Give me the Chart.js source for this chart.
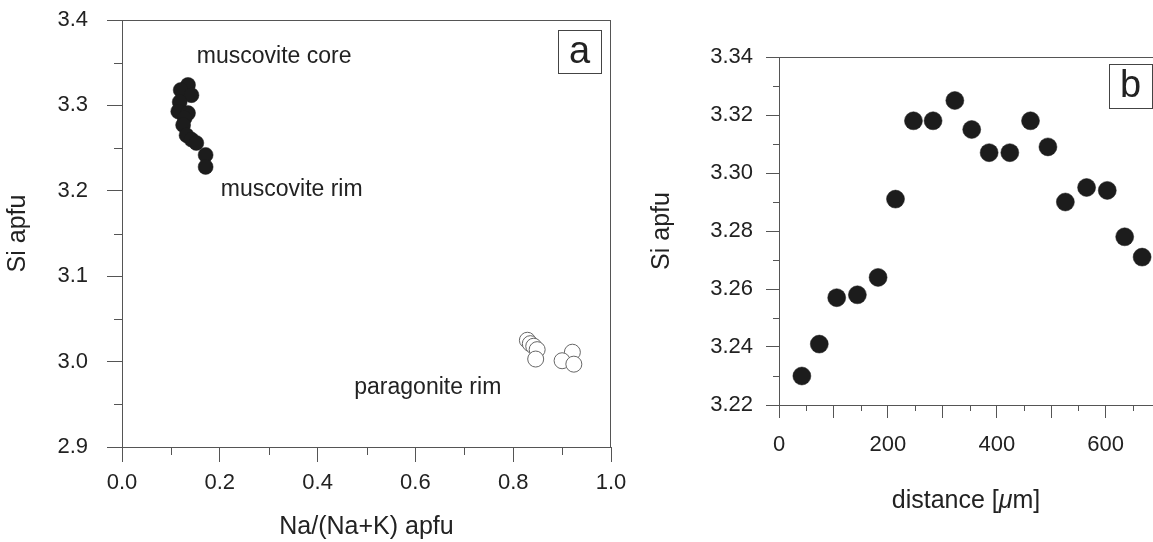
<!DOCTYPE html>
<html>
<head>
<meta charset="utf-8">
<script src="https://cdn.jsdelivr.net/npm/chart.js@4.4.1/dist/chart.umd.min.js"></script>
<style>
html, body { margin: 0; padding: 0; background: #fff; overflow: hidden; }
#wrapA { position: absolute; left: 0; top: 0; width: 640px; height: 542px; }
#wrapB { position: absolute; left: 640px; top: 0; width: 513px; height: 542px; }
</style>
</head>
<body>
<div id="wrapA"><canvas id="panelA"></canvas></div>
<div id="wrapB"><canvas id="panelB"></canvas></div>
<script>
// panel a - Si vs Na/(Na+K)
const muscoviteX = [0.135, 0.120, 0.142, 0.118, 0.115, 0.135, 0.128, 0.125, 0.132, 0.142, 0.152, 0.171, 0.171];
const muscoviteY = [3.324, 3.318, 3.312, 3.304, 3.293, 3.291, 3.285, 3.277, 3.265, 3.260, 3.256, 3.242, 3.228];
const paragoniteX = [0.829, 0.835, 0.842, 0.849, 0.846, 0.921, 0.900, 0.924];
const paragoniteY = [3.025, 3.021, 3.018, 3.014, 3.003, 3.011, 3.001, 2.997];
const ticksXA = [0.0, 0.2, 0.4, 0.6, 0.8, 1.0];
const ticksYA = [2.9, 3.0, 3.1, 3.2, 3.3, 3.4];

// panel b - Si profile along distance
const distance = [42, 74, 106, 144, 182, 214, 247, 283, 323, 354, 386, 424, 462, 494, 526, 565, 603, 635, 667];
const siProfile = [3.230, 3.241, 3.257, 3.258, 3.264, 3.291, 3.318, 3.318, 3.325, 3.315, 3.307, 3.307, 3.318, 3.309, 3.290, 3.295, 3.294, 3.278, 3.271];
const ticksXB = [0, 100, 200, 300, 400, 500, 600];
const ticksYB = [3.22, 3.24, 3.26, 3.28, 3.30, 3.32, 3.34];

const FONT = "'Liberation Sans', Arial, Helvetica, sans-serif";
const AXIS = '#555';
const INK = '#222';

// frame, minor ticks, letter box and text notes
const decor = {
  id: 'decor',
  afterDraw(chart, args, o) {
    const {ctx, chartArea: a} = chart;
    const sx = chart.scales.x, sy = chart.scales.y;
    ctx.save();
    ctx.strokeStyle = AXIS;
    ctx.lineWidth = 1;
    ctx.beginPath();
    ctx.moveTo(a.left - o.major, a.top + 0.5);
    ctx.lineTo(a.right, a.top + 0.5);
    if (o.rightLine) {
      ctx.moveTo(a.right - 0.5, a.top);
      ctx.lineTo(a.right - 0.5, a.bottom);
    }
    // minor ticks
    for (let v = sx.min + o.xMinor; v < sx.max; v += o.xMinor) {
      const r = v / o.xMajor;
      if (Math.abs(r - Math.round(r)) < 1e-6) continue;
      const px = Math.round(sx.getPixelForValue(v)) + 0.5;
      ctx.moveTo(px, a.bottom);
      ctx.lineTo(px, a.bottom + o.minor);
    }
    for (let v = sy.min + o.yMinor; v < sy.max - 1e-9; v += o.yMinor) {
      const r = v / o.yMajor;
      if (Math.abs(r - Math.round(r)) < 1e-6) continue;
      const py = Math.round(sy.getPixelForValue(v)) + 0.5;
      ctx.moveTo(a.left, py);
      ctx.lineTo(a.left - o.minor, py);
    }
    ctx.stroke();

    // letter box
    const bx = a.right - o.box.right - o.box.w, by = a.top + o.box.top;
    ctx.strokeStyle = '#444';
    ctx.strokeRect(Math.round(bx) + 0.5, Math.round(by) + 0.5, o.box.w, o.box.h);
    ctx.fillStyle = INK;
    ctx.font = '38px ' + FONT;
    ctx.textAlign = 'center';
    ctx.textBaseline = 'middle';
    ctx.fillText(o.box.letter, bx + o.box.w / 2, by + o.box.h / 2 + 1);

    // notes
    ctx.font = '23px ' + FONT;
    ctx.textAlign = 'left';
    (o.notes || []).forEach(n => {
      ctx.fillText(n.text, sx.getPixelForValue(n.x), sy.getPixelForValue(n.y));
    });

    // x title with italic mu
    if (o.xTitle) {
      const parts = o.xTitle;
      let w = 0;
      parts.forEach(p => { ctx.font = p.style + ' 25px ' + FONT; w += ctx.measureText(p.t).width; });
      let x = (a.left + a.right) / 2 - w / 2;
      const y = chart.height - o.xTitleBottom;
      parts.forEach(p => {
        ctx.font = p.style + ' 25px ' + FONT;
        ctx.fillText(p.t, x, y);
        x += ctx.measureText(p.t).width;
      });
    }
    ctx.restore();
  }
};

const tickFont = {family: FONT, size: 22};
const titleFont = {family: FONT, size: 25};

// fixed axis sizes, no extra label overflow padding
const fixY = w => s => { s.width = w; s.paddingTop = 0; s.paddingBottom = 0; };
const fixX = h => s => { s.height = h; s.paddingLeft = 0; s.paddingRight = 0; };

new Chart(document.getElementById('panelA'), {
  type: 'scatter',
  data: {
    datasets: [
      {
        data: muscoviteX.map((x, i) => ({x: x, y: muscoviteY[i]})),
        pointRadius: 7.5,
        pointBackgroundColor: '#1c1c1c',
        pointBorderColor: '#1c1c1c',
        pointBorderWidth: 0.5
      },
      {
        data: paragoniteX.map((x, i) => ({x: x, y: paragoniteY[i]})),
        pointRadius: 8,
        pointBackgroundColor: '#fff',
        pointBorderColor: '#666',
        pointBorderWidth: 1
      }
    ]
  },
  options: {
    responsive: true,
    maintainAspectRatio: false,
    devicePixelRatio: 1,
    animation: false,
    events: [],
    layout: {autoPadding: false, padding: {top: 20, right: 29, left: 0, bottom: 0}},
    plugins: {
      legend: {display: false},
      tooltip: {enabled: false},
      decor: {
        major: 15, minor: 8,
        xMinor: 0.1, xMajor: 0.2, yMinor: 0.05, yMajor: 0.1,
        rightLine: true,
        box: {letter: 'a', right: 10, top: 10, w: 43, h: 43},
        notes: [
          {text: 'muscovite core', x: 0.153, y: 3.357},
          {text: 'muscovite rim', x: 0.202, y: 3.201},
          {text: 'paragonite rim', x: 0.475, y: 2.969}
        ]
      }
    },
    scales: {
      x: {
        type: 'linear', min: 0, max: 1,
        afterBuildTicks: s => { s.ticks = ticksXA.map(v => ({value: v})); },
        afterFit: fixX(95),
        ticks: {font: tickFont, color: INK, padding: 8, maxRotation: 0, callback: v => v.toFixed(1)},
        grid: {drawOnChartArea: false, tickLength: 15, tickColor: AXIS},
        border: {color: AXIS},
        title: {display: true, text: 'Na/(Na+K) apfu', font: titleFont, color: INK, padding: {top: 0, bottom: 0}}
      },
      y: {
        type: 'linear', min: 2.9, max: 3.4,
        afterBuildTicks: s => { s.ticks = ticksYA.map(v => ({value: v})); },
        afterFit: fixY(122),
        ticks: {font: tickFont, color: INK, padding: 19, callback: v => v.toFixed(1)},
        grid: {drawOnChartArea: false, tickLength: 15, tickColor: AXIS},
        border: {color: AXIS},
        title: {display: true, text: 'Si apfu', font: titleFont, color: INK, padding: {top: 3, bottom: 0}}
      }
    }
  },
  plugins: [decor]
});

new Chart(document.getElementById('panelB'), {
  type: 'scatter',
  data: {
    datasets: [{
      data: distance.map((x, i) => ({x: x, y: siProfile[i]})),
      pointRadius: 9,
      pointBackgroundColor: '#1c1c1c',
      pointBorderColor: '#1c1c1c',
      pointBorderWidth: 0.5
    }]
  },
  options: {
    responsive: true,
    maintainAspectRatio: false,
    devicePixelRatio: 1,
    animation: false,
    events: [],
    layout: {autoPadding: false, padding: {top: 57, right: 0, left: 0, bottom: 0}},
    plugins: {
      legend: {display: false},
      tooltip: {enabled: false},
      decor: {
        major: 13, minor: 6,
        xMinor: 50, xMajor: 100, yMinor: 0.01, yMajor: 0.02,
        rightLine: false,
        box: {letter: 'b', right: 1, top: 7, w: 43, h: 44},
        xTitle: [{t: 'distance [', style: 'normal'}, {t: 'μ', style: 'italic'}, {t: 'm]', style: 'normal'}],
        xTitleBottom: 41
      }
    },
    scales: {
      x: {
        type: 'linear', min: 0, max: 687,
        afterBuildTicks: s => { s.ticks = ticksXB.map(v => ({value: v})); },
        afterFit: fixX(137),
        ticks: {font: tickFont, color: INK, padding: 14, maxRotation: 0, callback: v => (v % 200 === 0 ? String(v) : '')},
        grid: {drawOnChartArea: false, tickLength: 13, tickColor: AXIS},
        border: {color: AXIS},
        title: {display: false}
      },
      y: {
        type: 'linear', min: 3.22, max: 3.34,
        afterBuildTicks: s => { s.ticks = ticksYB.map(v => ({value: v})); },
        afterFit: fixY(139),
        ticks: {font: tickFont, color: INK, padding: 13, callback: v => v.toFixed(2)},
        grid: {drawOnChartArea: false, tickLength: 13, tickColor: AXIS},
        border: {color: AXIS},
        title: {display: true, text: 'Si apfu', font: titleFont, color: INK, padding: {top: 7, bottom: 0}}
      }
    }
  },
  plugins: [decor]
});
</script>
</body>
</html>
